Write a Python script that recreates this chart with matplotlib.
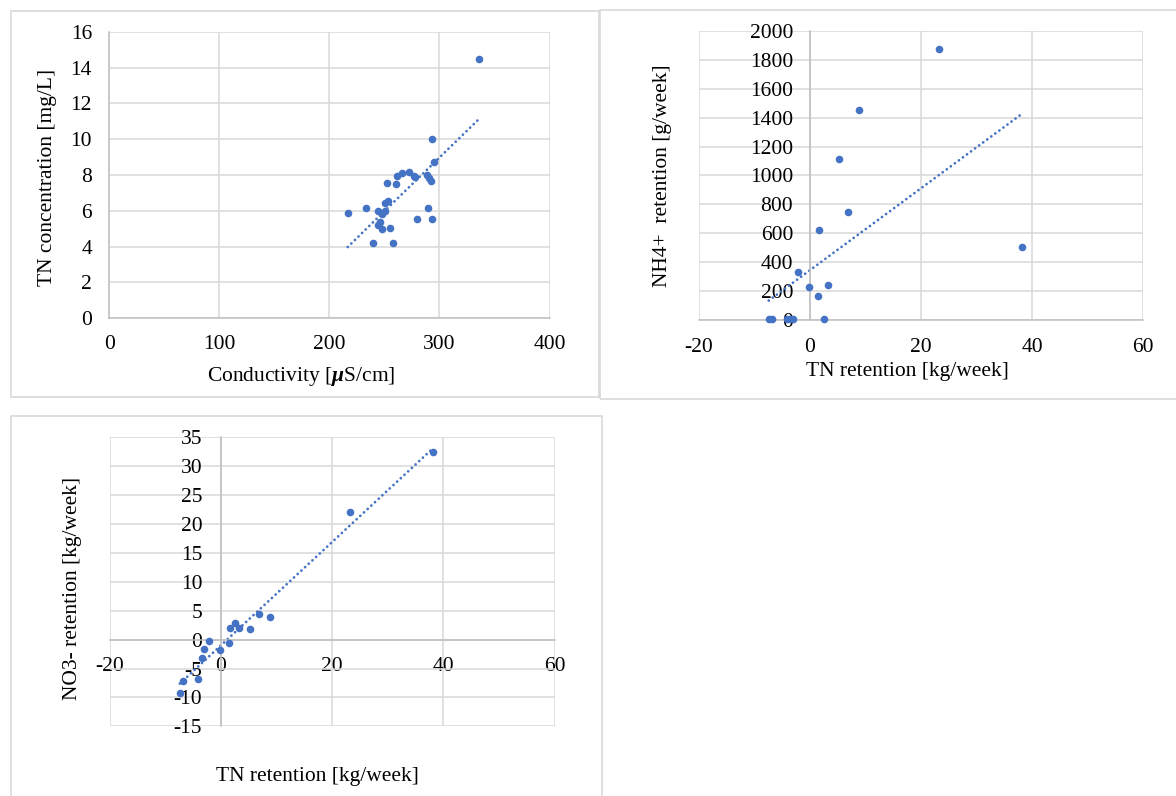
import numpy as np
import matplotlib.pyplot as plt
from matplotlib.patches import Rectangle

plt.rcParams['font.family'] = ['Liberation Serif', 'DejaVu Serif']
plt.rcParams['axes.unicode_minus'] = False
plt.rcParams['mathtext.fontset'] = 'custom'
plt.rcParams['mathtext.rm'] = 'Liberation Serif'
plt.rcParams['mathtext.bf'] = 'Liberation Serif:bold:italic'
plt.rcParams['mathtext.it'] = 'Liberation Serif:italic'

# panel 1: conductivity vs TN concentration
conductivity = [216.6, 232.8, 244.0, 250.6, 247.6, 246.1, 244.0, 248.2, 254.8, 239.8,
                257.5, 252.1, 260.5, 261.7, 265.7, 272.6, 276.8, 277.7, 288.3, 290.4,
                291.9, 293.1, 294.6, 289.2, 279.2, 293.1, 335.5, 250.6, 253.3]
tn_conc = [5.90, 6.14, 5.97, 5.97, 5.82, 5.39, 5.23, 4.96, 5.04, 4.20,
           4.20, 7.57, 7.50, 7.93, 8.09, 8.15, 7.94, 7.89, 8.00, 7.85,
           7.66, 10.03, 8.74, 6.14, 5.54, 5.54, 14.5, 6.42, 6.57]

# panels 2 and 3: TN retention vs NH4+ / NO3- retention
tn_ret = [-7.4, -6.8, -4.1, -3.5, -3.0, -2.2, -0.2, 1.4, 1.7, 2.5, 3.3, 5.2, 6.8, 8.8, 23.3, 38.1]
nh4_ret = [5, 5, 5, 5, 5, 333, 229, 166, 619, 5, 238, 1113, 744, 1450, 1874, 501]
no3_ret = [-9.2, -7.1, -6.8, -3.2, -1.6, -0.23, -1.79, -0.5, 2.1, 2.9, 2.1, 1.79, 4.5, 3.98, 22.1, 32.4]

W, H = 1176, 796
blue = '#4472C4'
grid_c = '#d9d9d9'
axis_c = '#bfbfbf'
fs = 15.5

fig = plt.figure(figsize=(W / 100, H / 100), dpi=100)


def px_axes(left, top, right, bottom):
    return fig.add_axes([left / W, 1 - bottom / H, (right - left) / W, (bottom - top) / H])


def frame(left, top, right, bottom):
    fig.patches.append(Rectangle((left / W, 1 - bottom / H), (right - left) / W, (bottom - top) / H,
                                 transform=fig.transFigure, fill=False, edgecolor=grid_c, lw=1.2))


def style(ax, xt, yt, pad_x, pad_y):
    ax.set_xlim(xt[0], xt[-1])
    ax.set_ylim(yt[0], yt[-1])
    ax.set_xticks(xt)
    ax.set_yticks(yt)
    ax.grid(True, color=grid_c, lw=1.1)
    ax.set_axisbelow(True)
    for s in ['top', 'right']:
        ax.spines[s].set_visible(False)
    for s in ['left', 'bottom']:
        ax.spines[s].set_color(axis_c)
        ax.spines[s].set_linewidth(1.1)
    ax.tick_params(axis='x', length=0, pad=pad_x, labelsize=fs)
    ax.tick_params(axis='y', length=0, pad=pad_y, labelsize=fs)


def scatter_trend(ax, x, y):
    x = np.array(x)
    y = np.array(y)
    k, b = np.polyfit(x, y, 1)
    xs = np.array([x.min(), x.max()])
    ax.plot(xs, k * xs + b, color=blue, lw=2.0, linestyle=(0, (0.01, 1.8)), dash_capstyle='round')
    ax.scatter(x, y, s=30, color=blue, zorder=3, clip_on=False, linewidths=0)


# panel 1
frame(10.7, 11, 599, 396.5)
ax1 = px_axes(109.4, 31.7, 549.5, 318.3)
style(ax1, [0, 100, 200, 300, 400], list(range(0, 17, 2)), 12, 12.5)
scatter_trend(ax1, conductivity, tn_conc)
fig.text(47.8 / W, 1 - 177 / H, 'TN concentration [mg/L]', rotation=90, ha='center', va='center', fontsize=fs)
fig.text(301 / W, 1 - 376.5 / H, r'Conductivity [$\mathbf{\mu}$S/cm]', ha='center', va='center', fontsize=fs)

# panel 2
frame(600, 10, 1180, 399)
ax2 = px_axes(698.7, 31.1, 1143.3, 319.7)
style(ax2, [-20, 0, 20, 40, 60], list(range(0, 2001, 200)), 13.5, 12)
ax2.spines['left'].set_position(('data', 0))
scatter_trend(ax2, tn_ret, nh4_ret)
fig.text(663 / W, 1 - 176 / H, 'NH4+  retention [g/week]', rotation=90, ha='center', va='center', fontsize=fs)
fig.text(907 / W, 1 - 371.5 / H, 'TN retention [kg/week]', ha='center', va='center', fontsize=fs)

# panel 3
frame(10.7, 416, 602, 800)
ax3 = px_axes(109.8, 437.3, 554.5, 726.4)
style(ax3, [-20, 0, 20, 40, 60], list(range(-15, 36, 5)), 12.5, 13.5)
ax3.spines['left'].set_position(('data', 0))
ax3.spines['bottom'].set_position(('data', 0))
scatter_trend(ax3, tn_ret, no3_ret)
fig.text(72 / W, 1 - 588 / H, 'NO3- retention [kg/week]', rotation=90, ha='center', va='center', fontsize=fs)
fig.text(317.5 / W, 1 - 776.5 / H, 'TN retention [kg/week]', ha='center', va='center', fontsize=fs)

fig.savefig('out.png', dpi=100, facecolor='white')
